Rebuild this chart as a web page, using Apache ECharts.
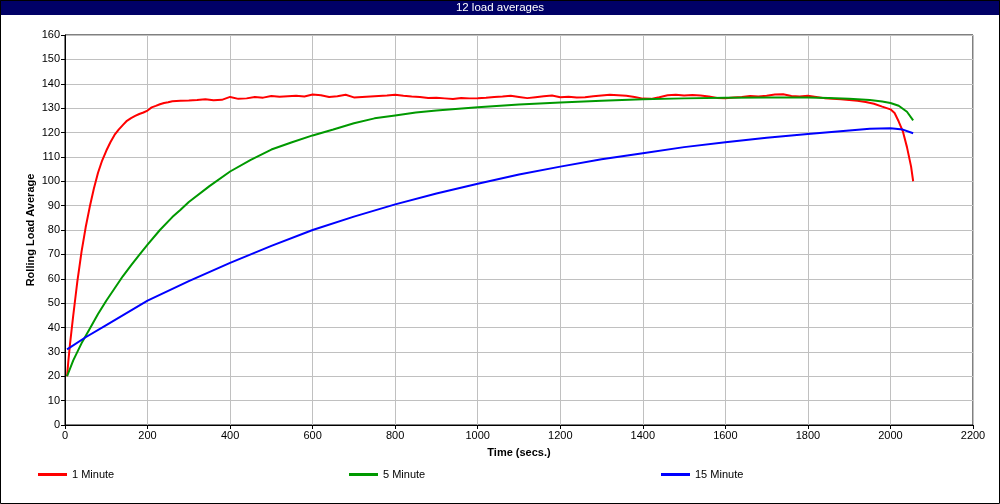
<!DOCTYPE html>
<html><head><meta charset="utf-8">
<script src="https://cdn.jsdelivr.net/npm/echarts@6/dist/echarts.min.js"></script>
<style>html,body{margin:0;padding:0;background:#fff}#c{width:1000px;height:504px}</style>
</head><body><div id="c"></div>
<script>
const titleText = '12 load averages';
const seriesNames = ['1 Minute', '5 Minute', '15 Minute'];
const seriesColors = ['#ff0000', '#009900', '#0000ff'];
const xTicks = [0, 200, 400, 600, 800, 1000, 1200, 1400, 1600, 1800, 2000, 2200];
const yTicks = [0, 10, 20, 30, 40, 50, 60, 70, 80, 90, 100, 110, 120, 130, 140, 150, 160];

const oneMinute = [
 [5,20],[8,26],[12,33],[16,39],[20,45],[25,52],[30,59],[35,65],[40,71],[50,81],[60,89.5],[70,97],
 [80,103.5],[90,108.5],[100,112.5],[110,116],[120,119],[130,121.2],[140,123],[150,124.8],[160,125.9],
 [170,126.8],[180,127.6],[190,128.2],[200,129],[210,130.3],[220,130.9],[230,131.6],[240,132.1],
 [250,132.4],[260,132.8],[280,133.0],[300,133.1],[320,133.3],[340,133.6],[360,133.2],[380,133.4],
 [400,134.6],[420,133.8],[440,134.0],[460,134.6],[480,134.3],[500,135.0],[520,134.7],[540,134.9],
 [560,135.1],[580,134.8],[600,135.6],[620,135.3],[640,134.6],[660,134.9],[680,135.5],[700,134.4],
 [720,134.6],[740,134.8],[760,135.0],[780,135.2],[800,135.5],[820,135.1],[840,134.8],[860,134.6],
 [880,134.2],[900,134.3],[920,134.0],[940,133.7],[960,134.2],[980,134.0],[1000,134.1],[1020,134.3],
 [1040,134.6],[1060,134.8],[1080,135.1],[1100,134.6],[1120,134.1],[1140,134.5],[1160,134.9],
 [1180,135.2],[1200,134.5],[1220,134.7],[1240,134.4],[1260,134.5],[1280,134.9],[1300,135.2],
 [1320,135.5],[1340,135.3],[1360,135.1],[1380,134.6],[1400,133.9],[1420,133.8],[1440,134.5],
 [1460,135.3],[1480,135.5],[1500,135.2],[1520,135.4],[1540,135.2],[1560,134.8],[1580,134.2],
 [1600,134.1],[1620,134.4],[1640,134.6],[1660,135.0],[1680,134.8],[1700,135.1],[1720,135.6],
 [1740,135.7],[1760,135.0],[1780,134.8],[1800,135.1],[1820,134.6],[1840,134.1],[1860,133.8],
 [1880,133.6],[1900,133.3],[1920,133.0],[1940,132.5],[1960,131.8],[1980,130.6],[2000,129.5],
 [2010,128.0],[2020,124.5],[2030,120.5],[2040,114],[2050,106],[2055,100]
];
const fiveMinute = [
 [5,20],[20,26.5],[40,33.5],[60,39.5],[80,45.5],[100,51],[120,56],[140,61],[160,65.5],[180,69.8],
 [200,74],[230,80],[260,85.3],[280,88.3],[300,91.5],[350,98],[400,104],[450,108.8],[500,113],
 [550,116],[600,118.8],[650,121.2],[700,123.8],[750,125.8],[800,127],[850,128.2],[900,129],
 [1000,130.4],[1100,131.5],[1200,132.3],[1300,133],[1400,133.6],[1500,134],[1600,134.3],
 [1700,134.4],[1800,134.4],[1850,134.2],[1900,133.8],[1950,133.3],[1980,132.7],[2000,132.1],
 [2020,131],[2040,128.5],[2055,125]
];
const fifteenMinute = [
 [5,31],[50,36],[100,41],[150,46],[200,51],[300,59],[400,66.5],[500,73.5],[600,80],[700,85.5],
 [800,90.5],[900,95],[1000,99],[1100,102.8],[1200,106],[1300,109],[1400,111.5],[1500,114],
 [1600,116],[1700,117.8],[1800,119.4],[1900,120.8],[1950,121.5],[2000,121.7],[2030,121.2],[2055,119.7]
];
const seriesData = [oneMinute, fiveMinute, fifteenMinute];

const font = '"Liberation Sans", Arial, sans-serif';
const chart = echarts.init(document.getElementById('c'), null, {renderer: 'canvas'});
const legendLefts = [38, 349, 661];
chart.setOption({
  animation: false,
  backgroundColor: '#ffffff',
  graphic: [
    {type: 'rect', shape: {x: 0, y: 0, width: 1000, height: 15}, style: {fill: '#000066'}, z: 99},
    {type: 'rect', shape: {x: 0.5, y: 0.5, width: 999, height: 503},
     style: {fill: 'none', stroke: '#000', lineWidth: 1}, z: 100, silent: true},
    {type: 'text', x: 500, y: 1.5, style: {text: titleText, fill: '#ffffff', font: '11.5px "Liberation Sans Narrow", "Liberation Sans", Arial', align: 'center', verticalAlign: 'top'}, z: 101}
  ],
  legend: seriesNames.map((n, i) => ({
    data: [n], left: legendLefts[i], top: 469, padding: 0, icon: 'rect', itemWidth: 29, itemHeight: 3,
    itemGap: 5, textStyle: {fontFamily: font, fontSize: 11, color: '#000'}
  })),
  grid: {left: 65, right: 27, top: 35, bottom: 79, show: true, borderColor: '#000', borderWidth: 1, backgroundColor: 'transparent'},
  xAxis: {
    type: 'value', min: xTicks[0], max: xTicks[xTicks.length - 1], interval: 200,
    name: 'Time (secs.)', nameLocation: 'middle', nameGap: 22, nameMoveOverlap: false,
    nameTextStyle: {fontFamily: font, fontSize: 11, fontWeight: 'bold', color: '#000'},
    axisLine: {lineStyle: {color: '#000', width: 1}},
    axisTick: {show: true, length: 4, lineStyle: {color: '#000'}},
    axisLabel: {fontFamily: font, fontSize: 11, color: '#000', margin: 5, formatter: v => String(v)},
    splitLine: {lineStyle: {color: '#c0c0c0', width: 1}}
  },
  yAxis: {
    type: 'value', min: yTicks[0], max: yTicks[yTicks.length - 1], interval: 10,
    name: 'Rolling Load Average', nameLocation: 'middle', nameGap: 29, nameMoveOverlap: false,
    nameTextStyle: {fontFamily: font, fontSize: 11, fontWeight: 'bold', color: '#000'},
    axisLine: {show: true, lineStyle: {color: '#000', width: 1}},
    axisTick: {show: true, length: 4, lineStyle: {color: '#000'}},
    axisLabel: {fontFamily: font, fontSize: 11, color: '#000', margin: 5, formatter: v => String(v)},
    splitLine: {lineStyle: {color: '#c0c0c0', width: 1}}
  },
  series: seriesNames.map((n, i) => ({
    name: n, type: 'line', data: seriesData[i], showSymbol: false, symbol: 'none',
    color: seriesColors[i], lineStyle: {width: 2, color: seriesColors[i]}, smooth: false
  }))
});
</script></body></html>
